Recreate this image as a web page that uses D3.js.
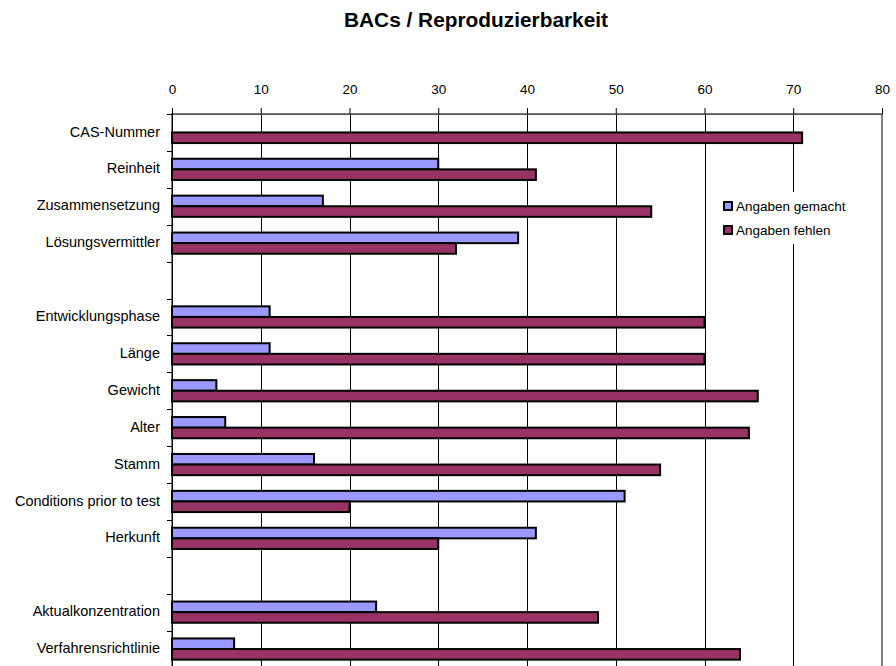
<!DOCTYPE html>
<html><head><meta charset="utf-8">
<script src="https://cdn.jsdelivr.net/npm/d3@7"></script>
<style>body{margin:0;background:#fff}svg{display:block}text{font-family:"Liberation Sans",Arial,sans-serif}</style>
</head><body>
<script>
const categories = ["CAS-Nummer","Reinheit","Zusammensetzung","Lösungsvermittler","",
  "Entwicklungsphase","Länge","Gewicht","Alter","Stamm","Conditions prior to test","Herkunft"," ",
  "Aktualkonzentration","Verfahrensrichtlinie"];
const gemacht = [0,30,17,39,null,11,11,5,6,16,51,41,null,23,7];
const fehlen  = [71,41,54,32,null,60,60,66,65,55,20,30,null,48,64];
const seriesNames = ["Angaben gemacht","Angaben fehlen"];
const xTicks = [0,10,20,30,40,50,60,70,80];
const colors = ["#9999FF","#993366"];

const W=896,H=666;
const L=172,R=882,T=114,B=667.5;
const svg=d3.select("body").append("svg").attr("width",W).attr("height",H);

const x=d3.scaleLinear().domain([0,80]).range([L,R]);
const y=d3.scaleBand().domain(categories).range([T,B]).padding(0);
const y1=d3.scaleBand().domain(seriesNames).range([0,y.step()]).paddingInner(0).paddingOuter(0.74);

svg.append("text").attr("x",476).attr("y",27).attr("text-anchor","middle")
  .attr("font-size",19.5).attr("font-weight","bold").attr("textLength",264).attr("lengthAdjust","spacingAndGlyphs")
  .text("BACs / Reproduzierbarkeit");

// gridlines
svg.append("g").selectAll("line").data(xTicks.filter(d=>d>0&&d<80)).join("line")
  .attr("x1",d=>Math.round(x(d))+0.5).attr("x2",d=>Math.round(x(d))+0.5)
  .attr("y1",T).attr("y2",H).attr("stroke","#000").attr("stroke-width",1);

// plot border
svg.append("rect").attr("x",L).attr("y",T).attr("width",R-L).attr("height",B-T)
  .attr("fill","none").attr("stroke","#808080").attr("stroke-width",2);

// top axis
const xa=svg.append("g").attr("transform",`translate(0,${T})`)
  .call(d3.axisTop(x).tickValues(xTicks).tickSize(6).tickPadding(14).tickFormat(d3.format("d")));
xa.select(".domain").attr("stroke","#555");
xa.selectAll("text").attr("font-size",13.5).attr("fill","#000").style("font-family","Liberation Sans, Arial, sans-serif");

// bars
const rows = categories.map((c,i)=>({c,vals:[gemacht[i],fehlen[i]]}));
const g=svg.append("g");
rows.forEach(r=>{
  r.vals.forEach((v,k)=>{
    if(v===null||v===0) return;
    g.append("rect").attr("x",x(0)).attr("y",y(r.c)+y1(seriesNames[k]))
      .attr("width",x(v)-x(0)).attr("height",y1.bandwidth())
      .attr("fill",colors[k]).attr("stroke","#000").attr("stroke-width",2);
  });
});

// left axis
const ya=svg.append("g").attr("transform",`translate(${L},0)`);
ya.append("line").attr("x1",0.5).attr("x2",0.5).attr("y1",T).attr("y2",H).attr("stroke","#000");
ya.selectAll("line.t").data(d3.range(categories.length+1)).join("line").attr("class","t")
  .attr("x1",-5).attr("x2",0).attr("y1",i=>Math.round(T+i*y.step())+0.5).attr("y2",i=>Math.round(T+i*y.step())+0.5)
  .attr("stroke","#000");
ya.selectAll("text").data(categories).join("text")
  .attr("x",-12).attr("y",d=>y(d)+y.bandwidth()/2-1).attr("dy","0.35em")
  .attr("text-anchor","end").attr("font-size",14.5).text(d=>d.trim());

// legend
const lg=svg.append("g").attr("transform","translate(716,192)");
lg.append("rect").attr("x",0).attr("y",0).attr("width",150).attr("height",52).attr("fill","#fff");
seriesNames.forEach((s,k)=>{
  lg.append("rect").attr("x",8).attr("y",10+k*24).attr("width",8).attr("height",8)
    .attr("fill",colors[k]).attr("stroke","#000").attr("stroke-width",2);
  lg.append("text").attr("x",20).attr("y",14+k*24).attr("dy","0.35em").attr("font-size",13.5).text(s);
});
</script>
</body></html>
